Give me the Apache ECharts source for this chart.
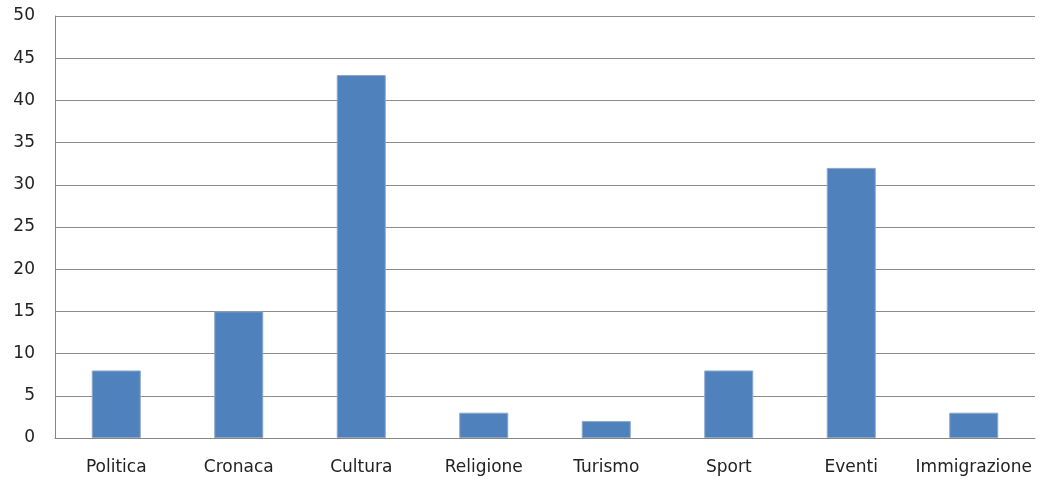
<!DOCTYPE html>
<html>
<head>
<meta charset="utf-8">
<style>
  html, body { margin: 0; padding: 0; background: #fff; }
  #chart { width: 1039px; height: 481px; }
</style>
<script src="https://cdn.jsdelivr.net/npm/echarts@6/dist/echarts.min.js"></script>
</head>
<body>
<div id="chart"></div>
<script>
// Topics and article counts
const categories = ['Politica', 'Cronaca', 'Cultura', 'Religione', 'Turismo', 'Sport', 'Eventi', 'Immigrazione'];
const counts = [8, 15, 43, 3, 2, 8, 32, 3];
const yMin = 0, yMax = 50, yStep = 5;

const chart = echarts.init(document.getElementById('chart'), null, { renderer: 'canvas' });
const font = '"DejaVu Sans", "Open Sans", sans-serif';

chart.setOption({
  animation: false,
  grid: { left: 55, right: 4, top: 16, bottom: 43, containLabel: false },
  xAxis: {
    type: 'category',
    data: categories,
    axisLine: { show: true, lineStyle: { color: '#868686', width: 1 } },
    axisTick: { show: false },
    axisLabel: { color: '#222', fontFamily: font, fontSize: 17, margin: 21, interval: 0 },
    splitLine: { show: false }
  },
  yAxis: {
    type: 'value',
    min: yMin, max: yMax, interval: yStep,
    axisLine: { show: true, lineStyle: { color: '#868686', width: 1 } },
    axisTick: { show: false },
    axisLabel: { color: '#222', fontFamily: font, fontSize: 17, margin: 20 },
    splitLine: { show: true, lineStyle: { color: '#8c8c8c', width: 1 } }
  },
  series: [{
    type: 'bar',
    data: counts,
    barWidth: '40%',
    itemStyle: { color: '#4F81BD', borderColor: '#8aa6c8', borderWidth: 1 }
  }]
});
</script>
</body>
</html>
